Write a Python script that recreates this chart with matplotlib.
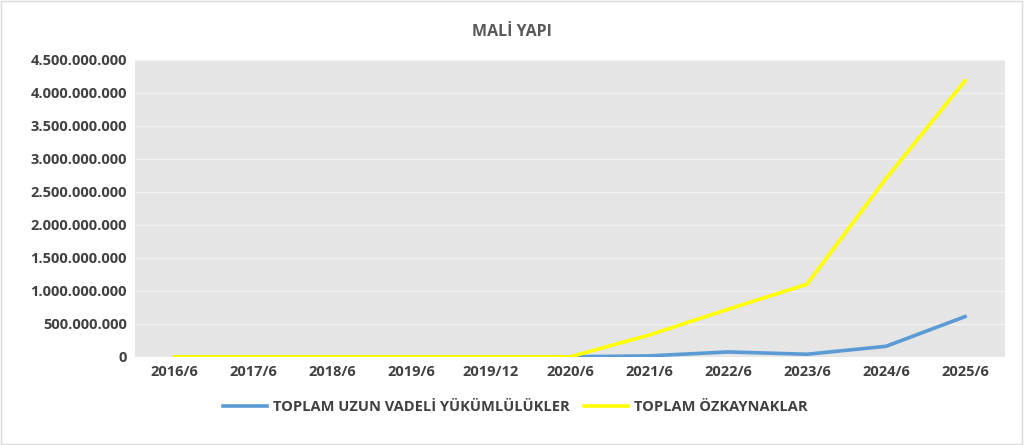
import matplotlib
matplotlib.use("Agg")
import matplotlib.pyplot as plt
from matplotlib.ticker import FuncFormatter

categories = ["2016/6","2017/6","2018/6","2019/6","2019/12","2020/6","2021/6","2022/6","2023/6","2024/6","2025/6"]
long_term = [0,0,0,0,0,2e6,15e6,75e6,40e6,160e6,610e6]
equity = [0,0,0,0,0,0,330e6,720e6,1100e6,2700e6,4180e6]

plt.rcParams['font.family'] = ['Open Sans','DejaVu Sans']
fig = plt.figure(figsize=(10.24,4.45), dpi=100)
fig.patch.set_facecolor('white')
ax = fig.add_axes([0.132, 0.198, 0.849, 0.668])
ax.set_facecolor('#E5E5E5')
x = range(len(categories))
ax.plot(x, long_term, color='#5B9BD5', lw=2.6, label='TOPLAM UZUN VADELİ YÜKÜMLÜLÜKLER')
ax.plot(x, equity, color='#FFFF00', lw=2.6, label='TOPLAM ÖZKAYNAKLAR')
ax.set_xlim(-0.5, len(categories)-0.5)
ax.set_ylim(0, 4.5e9)
ax.set_yticks([i*5e8 for i in range(10)])
ax.yaxis.set_major_formatter(FuncFormatter(lambda v,p: f"{int(round(v)):,}".replace(",", ".")))
ax.set_xticks(list(x))
ax.set_xticklabels(categories)
ax.grid(axis='y', color='#F2F2F2', lw=1)
ax.set_axisbelow(True)
for s in ax.spines.values():
    s.set_visible(False)
ax.tick_params(length=0, labelsize=10.5, colors='#404040', pad=6)
for t in ax.get_xticklabels()+ax.get_yticklabels():
    t.set_fontweight('bold')
fig.suptitle('MALİ YAPI', y=0.945, fontsize=11.5, fontweight='bold', color='#595959')
ax.legend(loc='upper center', bbox_to_anchor=(0.437, -0.1), ncol=2, frameon=False,
          prop={'weight':'bold','size':10.5}, labelcolor='#404040', handlelength=3.0,
          handletextpad=0.4, columnspacing=1.0)
fig.add_artist(plt.Rectangle((0.001,0.002),0.997,0.995, transform=fig.transFigure, fill=False, ec='#D9D9D9', lw=1))
fig.savefig('out.png', dpi=100)
